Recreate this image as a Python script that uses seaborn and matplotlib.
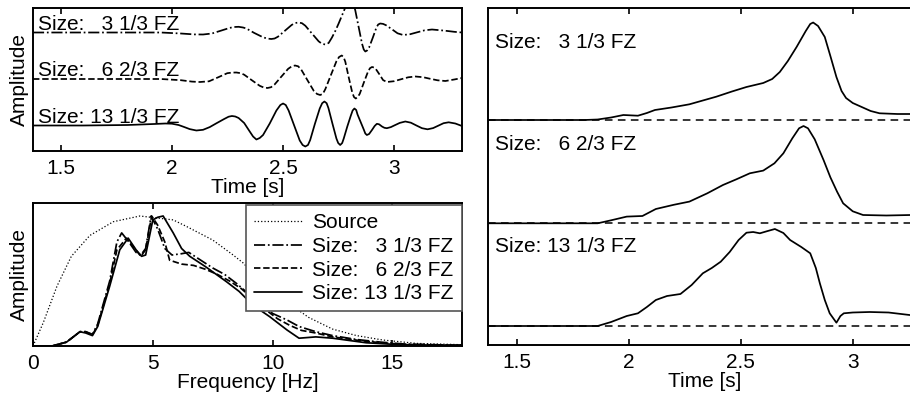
import numpy as np
import pandas as pd
import matplotlib
matplotlib.use("Agg")
import matplotlib.pyplot as plt
import seaborn as sns

# ---------------- data ----------------
labels = ["Size:   3 1/3 FZ", "Size:   6 2/3 FZ", "Size: 13 1/3 FZ"]
styles = ["-.", "--", "-"]

# top-left: seismograms, (time [s], amplitude) pairs
wave_33 = [(1.375, 0), (1.70, 0), (1.95, 0), (2.04, -1), (2.10, -1.9), (2.14, -2), (2.18, -1), (2.22, 1.8),
           (2.26, 4.6), (2.28, 5.5), (2.30, 5.7), (2.32, 5.0), (2.335, 4.0), (2.37, -0.4), (2.41, -4.8),
           (2.43, -6.1), (2.447, -6.5), (2.462, -6), (2.477, -4.2), (2.508, 1.7), (2.539, 7.6), (2.555, 9.5),
           (2.57, 10), (2.585, 9.3), (2.60, 6.8), (2.63, -1.0), (2.66, -8.8), (2.675, -11.3), (2.69, -12),
           (2.705, -10.5), (2.72, -5), (2.735, 1.5), (2.75, 9), (2.765, 17), (2.78, 25), (2.795, 29),
           (2.81, 30), (2.818, 28), (2.825, 22), (2.84, 5.5), (2.855, -11), (2.863, -17), (2.87, -19),
           (2.878, -18), (2.887, -15), (2.904, -5), (2.92, 5), (2.928, 8), (2.937, 9), (2.95, 8.6),
           (2.963, 7.3), (2.99, 3.2), (3.015, -0.8), (3.04, -2.5), (3.072, -1.7), (3.105, 0.3), (3.137, 2.2),
           (3.17, 3), (3.21, 2.2), (3.24, 1.5), (3.27, 0.7), (3.305, 0)]
wave_67 = [(1.375, 0), (1.70, 0), (1.95, 0), (2.04, -1.2), (2.09, -2.6), (2.126, -3), (2.167, -2.3), (2.208, 1.7),
           (2.249, 5.8), (2.27, 6.4), (2.29, 6.5), (2.31, 5.8), (2.325, 4.3), (2.36, -1.3), (2.395, -6.8),
           (2.413, -8.5), (2.43, -9), (2.446, -8.2), (2.461, -5.7), (2.492, 2.3), (2.523, 10.2), (2.54, 12.8),
           (2.554, 13.5), (2.568, 12.7), (2.582, 9.3), (2.61, -1.3), (2.638, -11.8), (2.653, -15), (2.667, -16),
           (2.679, -14.8), (2.69, -10.2), (2.715, 3.8), (2.74, 17.7), (2.752, 22), (2.764, 23.5), (2.772, 22),
           (2.78, 17.3), (2.795, 2), (2.811, -13.3), (2.819, -18), (2.827, -19.5), (2.836, -18), (2.845, -14.8),
           (2.863, -3.8), (2.882, 7.3), (2.891, 10.8), (2.90, 12), (2.909, 11.5), (2.917, 10.1), (2.934, 4.5),
           (2.95, -1.1), (2.967, -3), (3.0, -2.2), (3.03, -0.3), (3.063, 1.7), (3.095, 2.5), (3.13, 1.8),
           (3.16, 0.3), (3.195, -1.3), (3.23, -2), (3.27, -0.5), (3.305, 1)]
wave_133 = [(1.375, 0), (1.60, 0), (1.80, 0.5), (1.92, 1.5), (1.97, 2), (2.00, 1.8), (2.03, 0.5), (2.055, -1.5),
            (2.08, -3.6), (2.11, -5), (2.14, -4.3), (2.17, -1.6), (2.20, 2.2), (2.235, 6.5), (2.255, 8.8),
            (2.27, 9.5), (2.285, 9), (2.30, 7.5), (2.325, 2.5), (2.35, -6), (2.365, -11), (2.38, -14),
            (2.395, -12.5), (2.41, -9.5), (2.44, 2), (2.47, 15), (2.488, 20.5), (2.50, 22), (2.512, 20.5),
            (2.525, 15), (2.55, 0), (2.575, -15), (2.588, -19.5), (2.60, -21), (2.612, -19.5), (2.622, -14.5),
            (2.643, 1.5), (2.665, 17), (2.676, 22.3), (2.686, 24), (2.696, 22.3), (2.704, 17.5), (2.722, 2),
            (2.740, -13), (2.748, -17.5), (2.757, -19.5), (2.766, -17.5), (2.773, -13), (2.789, -1), (2.805, 10),
            (2.813, 15), (2.821, 17), (2.829, 15.5), (2.835, 11), (2.849, 3.5), (2.863, -4), (2.870, -8),
            (2.877, -9.5), (2.887, -8.5), (2.90, -4.5), (2.912, -0.5), (2.922, 1.7), (2.932, 1.2), (2.945, -1),
            (2.956, -2.3), (2.967, -2.7), (2.985, -1.6), (3.00, 0), (3.025, 2.6), (3.05, 4), (3.075, 2.8),
            (3.10, 0), (3.125, -2.7), (3.15, -3.8), (3.175, -2.6), (3.20, 0), (3.222, 2.3), (3.245, 3.2),
            (3.275, 2), (3.305, -0.5)]
wave_offsets = [118.5, 72, 25.5]

# bottom-left: spectra (frequency [Hz], normalised amplitude)
src_f = [0, 0.43, 1.0, 1.6, 2.37, 3.35, 4.46, 5.85, 6.4, 7.5, 8.35, 8.76, 9.5, 10.43, 11.5, 12.5, 13.5, 14.6, 16.0, 17.9]
src_a = [0, 0.18, 0.46, 0.69, 0.85, 0.956, 1.0, 0.97, 0.92, 0.815, 0.70, 0.64, 0.50, 0.36, 0.22, 0.13, 0.08, 0.046, 0.02, 0.01]
s1_f = [0, 0.8, 1.4, 1.96, 2.2, 2.48, 2.7, 3.2, 3.5, 3.7, 4.0, 4.3, 4.5, 4.7, 4.93, 5.2, 5.5, 5.8, 6.2, 6.5, 7.0, 7.5, 8.0, 8.5, 9.0, 9.5, 10.0, 10.6, 11.1, 11.8, 12.5, 13.5, 14.5, 15.5, 17.9]
s1_a = [0, 0, 0.03, 0.11, 0.11, 0.09, 0.17, 0.50, 0.80, 0.87, 0.80, 0.72, 0.70, 0.75, 1.0, 0.90, 0.75, 0.70, 0.71, 0.72, 0.66, 0.60, 0.55, 0.48, 0.40, 0.32, 0.25, 0.20, 0.15, 0.11, 0.08, 0.05, 0.03, 0.015, 0.005]
s2_f = [0, 0.8, 1.4, 1.96, 2.2, 2.48, 2.7, 3.2, 3.5, 3.9, 4.2, 4.5, 4.7, 4.95, 5.2, 5.5, 5.7, 6.2, 6.7, 7.2, 7.7, 8.2, 8.7, 9.2, 9.7, 10.2, 10.7, 11.2, 11.8, 12.5, 13.5, 14.5, 15.5, 17.9]
s2_a = [0, 0, 0.03, 0.11, 0.11, 0.085, 0.16, 0.48, 0.74, 0.83, 0.76, 0.69, 0.74, 1.0, 0.93, 0.80, 0.66, 0.63, 0.62, 0.59, 0.55, 0.50, 0.44, 0.36, 0.28, 0.21, 0.16, 0.12, 0.10, 0.07, 0.045, 0.025, 0.012, 0.005]
s3_f = [0, 0.8, 1.4, 1.96, 2.2, 2.48, 2.7, 3.2, 3.62, 3.97, 4.3, 4.53, 4.7, 5.0, 5.2, 5.43, 5.85, 6.2, 6.54, 7.2, 8.07, 8.6, 9.17, 9.88, 10.6, 11.1, 11.8, 12.5, 13.9, 15.3, 17.9]
s3_a = [0, 0, 0.03, 0.11, 0.10, 0.08, 0.15, 0.46, 0.74, 0.83, 0.74, 0.69, 0.70, 0.97, 0.99, 1.0, 0.87, 0.75, 0.69, 0.61, 0.495, 0.42, 0.315, 0.225, 0.123, 0.06, 0.07, 0.06, 0.025, 0.01, 0.005]

# right: stacked curves (time [s], amplitude)
r1_t = [1.37, 1.80, 1.86, 1.92, 1.975, 2.04, 2.08, 2.116, 2.19, 2.27, 2.33, 2.39, 2.46, 2.525, 2.60, 2.64, 2.674, 2.71, 2.749, 2.79, 2.81, 2.823, 2.845, 2.875, 2.90, 2.927, 2.95, 2.97, 3.0, 3.04, 3.08, 3.12, 3.2, 3.305]
r1_a = [0, 0, 0.5, 2.5, 5, 4.3, 7, 10, 12.5, 15.7, 19.5, 23.3, 28.5, 33, 37, 41, 48, 59, 73, 89, 96, 97.5, 94, 83, 64, 43, 29, 22, 17, 13, 9, 6.7, 6, 6]
r2_t = [1.37, 1.86, 1.92, 1.99, 2.06, 2.12, 2.20, 2.27, 2.35, 2.42, 2.48, 2.54, 2.60, 2.65, 2.69, 2.73, 2.76, 2.78, 2.80, 2.83, 2.87, 2.90, 2.93, 2.957, 3.0, 3.046, 3.15, 3.305]
r2_a = [0, 0, 3, 6.7, 7.3, 14.3, 18.5, 21.7, 30, 38.3, 44, 50, 52.7, 60, 70, 85, 95, 97.3, 95, 84, 63, 46, 31.6, 20, 12, 8.3, 7.8, 8.5]
r3_t = [1.37, 1.86, 1.92, 1.99, 2.04, 2.08, 2.12, 2.17, 2.23, 2.28, 2.33, 2.37, 2.41, 2.45, 2.49, 2.525, 2.555, 2.585, 2.62, 2.652, 2.69, 2.72, 2.77, 2.81, 2.835, 2.853, 2.875, 2.897, 2.927, 2.945, 2.96, 3.0, 3.076, 3.16, 3.254, 3.305]
r3_a = [0, 0, 4, 10, 12.7, 19, 26, 30, 32, 41, 52.7, 58, 64.3, 74, 86, 93.3, 94, 92.7, 95, 97, 93, 86, 79, 72.7, 58, 42.7, 26, 12.7, 3.3, 10, 12.7, 13.5, 14, 13.5, 11, 10]
right_offsets = [225, 121.7, 19]

time_ticks = [1.5, 2, 2.5, 3]
time_ticklabels = ["1.5", "2", "2.5", "3"]
freq_ticks = [0, 5, 10, 15]
freq_ticklabels = ["0", "5", "10", "15"]

# ---------------- style ----------------
sns.set_theme(style="white")
plt.rcParams["font.family"] = ["Liberation Sans", "DejaVu Sans"]
plt.rcParams["axes.linewidth"] = 1.4
FS = 15

fig = plt.figure(figsize=(9.10, 3.99), dpi=100)
W, H = 910.0, 399.0


def add_ax(x0, y0, x1, y1):
    return fig.add_axes([x0 / W, 1 - y1 / H, (x1 - x0) / W, (y1 - y0) / H])


def style(ax):
    for sp in ax.spines.values():
        sp.set_color("black")
        sp.set_linewidth(1.4)
    ax.tick_params(axis="x", direction="in", length=4, width=1.2, top=True,
                   bottom=True, labelsize=FS, pad=6, colors="black")
    ax.set_yticks([])
    ax.grid(False)


LW = 1.25

# ---- top-left
ax1 = add_ax(33, 8, 462, 151)
for wave, off, ls in zip([wave_33, wave_67, wave_133], wave_offsets, styles):
    df = pd.DataFrame(wave, columns=["t", "a"])
    df["y"] = df["a"] + off
    sns.lineplot(data=df, x="t", y="y", ax=ax1, color="black", lw=LW,
                 linestyle=ls, sort=False, legend=False)
ax1.set_xlim(1.375, 3.305)
ax1.set_ylim(0, 143)
style(ax1)
ax1.set_xticks(time_ticks)
ax1.set_xticklabels(time_ticklabels)
ax1.set_xlabel("Time [s]", fontsize=FS, labelpad=0, color="black")
ax1.set_ylabel("Amplitude", fontsize=FS, labelpad=3, color="black")
for lab, ty in zip(labels, [121, 75, 27.7]):
    ax1.text(0.012, ty, lab, transform=ax1.get_yaxis_transform(),
             fontsize=FS, va="baseline", ha="left", color="black")

# ---- bottom-left
ax2 = add_ax(33, 203, 462, 346)
spec = [(src_f, src_a, "Source", ":", 0.9),
        (s1_f, s1_a, labels[0], "-.", LW),
        (s2_f, s2_a, labels[1], "--", LW),
        (s3_f, s3_a, labels[2], "-", LW)]
for f, a, lab, ls, lw in spec:
    df = pd.DataFrame({"f": f, "a": a})
    sns.lineplot(data=df, x="f", y="a", ax=ax2, color="black", lw=lw,
                 linestyle=ls, label=lab, sort=False)
ax2.set_xlim(0, 17.9)
ax2.set_ylim(0, 1.1)
style(ax2)
ax2.set_xticks(freq_ticks)
ax2.set_xticklabels(freq_ticklabels)
ax2.set_xlabel("Frequency [Hz]", fontsize=FS, labelpad=0, color="black")
ax2.set_ylabel("Amplitude", fontsize=FS, labelpad=3, color="black")
leg = ax2.legend(loc="upper right", bbox_to_anchor=(1.0, 0.986), fontsize=FS,
                 frameon=True, fancybox=False, framealpha=1, edgecolor="#555555",
                 handlelength=2.3, handletextpad=0.5, labelspacing=0.22,
                 borderpad=0.4, borderaxespad=0.0)
leg.get_frame().set_linewidth(1.2)
for txt in leg.get_texts():
    txt.set_color("black")

# ---- right
ax3 = add_ax(488, 8, 921, 345)
rights = [(r1_t, r1_a), (r2_t, r2_a), (r3_t, r3_a)]
for (t, a), off in zip(rights, right_offsets):
    ax3.axhline(off, color="black", lw=1.1, linestyle=(0, (5, 3.5)))
    df = pd.DataFrame({"t": t, "y": np.array(a) + off})
    sns.lineplot(data=df, x="t", y="y", ax=ax3, color="black", lw=LW,
                 sort=False, legend=False)
ax3.set_xlim(1.37, 3.305)
ax3.set_ylim(0, 337)
style(ax3)
ax3.set_xticks(time_ticks)
ax3.set_xticklabels(time_ticklabels)
ax3.set_xlabel("Time [s]", fontsize=FS, labelpad=0, color="black")
ax3.set_ylabel("")
for lab, ty in zip(labels, [297, 195, 93.3]):
    ax3.text(0.016, ty, lab, transform=ax3.get_yaxis_transform(),
             fontsize=FS, va="baseline", ha="left", color="black")

fig.savefig("out.png", dpi=100)
